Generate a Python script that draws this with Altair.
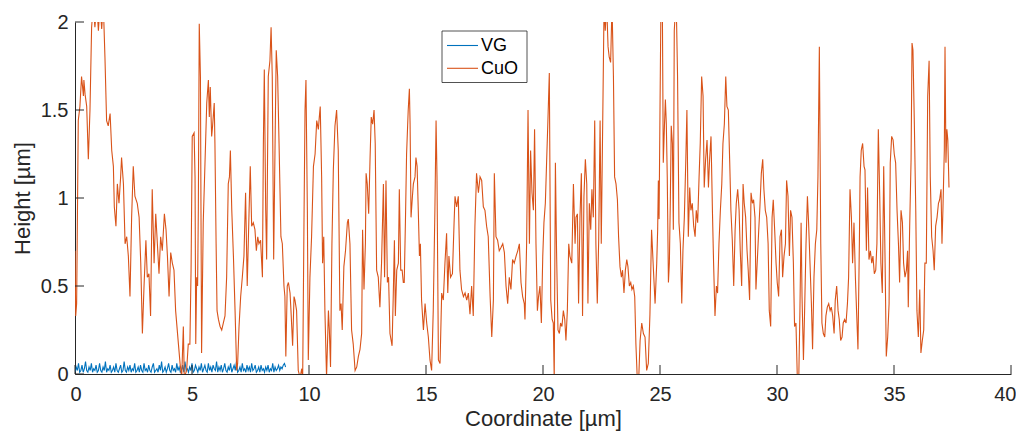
import altair as alt
import pandas as pd

x_ticks = [0, 5, 10, 15, 20, 25, 30, 35, 40]
y_ticks = [0, 0.5, 1, 1.5, 2]
series_names = ["VG", "CuO"]
series_colors = ["#0072BD", "#D95319"]

vg_x = [0.00,0.05,0.10,0.15,0.20,0.25,0.30,0.35,0.40,0.45,0.50,0.55,0.60,0.65,0.70,0.75,0.80,0.85,0.90,0.95,
        1.00,1.05,1.10,1.15,1.20,1.25,1.30,1.35,1.40,1.45,1.50,1.55,1.60,1.65,1.70,1.75,1.80,1.85,1.90,1.95,
        2.00,2.05,2.10,2.15,2.20,2.25,2.30,2.35,2.40,2.45,2.50,2.55,2.60,2.65,2.70,2.75,2.80,2.85,2.90,2.95,
        3.00,3.05,3.10,3.15,3.20,3.25,3.30,3.35,3.40,3.45,3.50,3.55,3.60,3.65,3.70,3.75,3.80,3.85,3.90,3.95,
        4.00,4.05,4.10,4.15,4.20,4.25,4.30,4.35,4.40,4.45,4.50,4.55,4.60,4.65,4.70,4.75,4.80,4.85,4.90,4.95,
        5.00,5.05,5.10,5.15,5.20,5.25,5.30,5.35,5.40,5.45,5.50,5.55,5.60,5.65,5.70,5.75,5.80,5.85,5.90,5.95,
        6.00,6.05,6.10,6.15,6.20,6.25,6.30,6.35,6.40,6.45,6.50,6.55,6.60,6.65,6.70,6.75,6.80,6.85,6.90,6.95,
        7.00,7.05,7.10,7.15,7.20,7.25,7.30,7.35,7.40,7.45,7.50,7.55,7.60,7.65,7.70,7.75,7.80,7.85,7.90,7.95,
        8.00,8.05,8.10,8.15,8.20,8.25,8.30,8.35,8.40,8.45,8.50,8.55,8.60,8.65,8.70,8.75,8.80,8.85,8.90,8.95,
        9.00]
vg_y = [0.01,0.04,0.02,0.06,0.01,0.02,0.05,0.01,0.03,0.07,
        0.02,0.01,0.04,0.02,0.06,0.01,0.03,0.02,0.05,0.01,
        0.02,0.06,0.02,0.01,0.04,0.02,0.07,0.01,0.03,0.02,
        0.05,0.01,0.02,0.04,0.01,0.06,0.02,0.01,0.03,0.05,
        0.01,0.02,0.07,0.02,0.01,0.04,0.02,0.05,0.01,0.03,
        0.02,0.06,0.01,0.02,0.04,0.01,0.05,0.02,0.01,0.06,
        0.02,0.03,0.01,0.05,0.02,0.01,0.04,0.06,0.01,0.02,
        0.03,0.01,0.05,0.02,0.07,0.01,0.02,0.04,0.01,0.03,
        0.06,0.02,0.01,0.05,0.02,0.03,0.01,0.06,0.02,0.04,
        0.01,0.02,0.05,0.01,0.07,0.02,0.03,0.01,0.04,0.02,
        0.06,0.01,0.02,0.05,0.03,0.01,0.04,0.02,0.06,0.01,
        0.03,0.05,0.02,0.01,0.06,0.02,0.04,0.01,0.05,0.03,
        0.02,0.07,0.01,0.04,0.02,0.05,0.01,0.03,0.06,0.02,
        0.01,0.04,0.02,0.06,0.01,0.03,0.05,0.02,0.07,0.01,
        0.02,0.04,0.01,0.06,0.02,0.03,0.01,0.05,0.02,0.04,
        0.01,0.06,0.02,0.03,0.05,0.01,0.02,0.04,0.01,0.05,
        0.02,0.03,0.01,0.04,0.02,0.05,0.01,0.03,0.02,0.06,
        0.01,0.04,0.02,0.03,0.05,0.02,0.04,0.03,0.05,0.06,
        0.04]

cuo_points = [
    (0.00,0.70),(0.03,0.33),(0.07,0.40),(0.14,1.44),(0.21,1.52),(0.28,1.69),(0.36,1.58),(0.38,1.67),(0.43,1.59),(0.50,1.52),
    (0.57,1.22),(0.64,1.50),(0.71,1.97),(0.78,2.1),(0.85,1.97),(0.93,2.1),(1.00,1.95),(1.07,2.1),(1.14,1.96),(1.21,2.1),
    (1.28,1.80),(1.35,1.44),(1.42,1.41),(1.50,1.48),(1.57,1.27),(1.64,1.18),(1.68,0.95),(1.75,0.84),(1.81,1.08),(1.88,0.97),
    (1.95,1.12),(1.99,1.23),(2.07,1.08),(2.14,0.74),(2.21,0.78),(2.28,0.67),(2.35,0.44),(2.42,0.89),(2.49,1.18),(2.56,1.01),
    (2.66,0.97),(2.74,0.89),(2.81,0.63),(2.88,0.23),(2.95,0.50),(3.03,0.76),(3.09,0.55),(3.16,0.57),(3.23,0.33),(3.30,1.05),
    (3.38,0.63),(3.45,0.91),(3.52,0.74),(3.59,0.57),(3.66,0.78),(3.73,0.70),(3.82,0.91),(3.89,0.82),(3.95,0.67),(4.02,0.44),
    (4.09,0.69),(4.16,0.63),(4.23,0.59),(4.30,0.36),
    (4.42,0.17),(4.49,0.06),(4.56,-0.02),(4.63,0.27),(4.67,-0.02),(4.77,0.02),(4.84,0.17),(4.91,0.17),(4.96,0.59),(5.01,1.35),
    (5.09,1.37),(5.13,1.12),(5.16,0.17),(5.20,0.55),(5.24,0.50),(5.27,0.93),(5.31,1.99),(5.36,1.69),(5.41,0.12),(5.48,0.86),
    (5.56,1.22),(5.63,1.54),(5.70,1.67),(5.74,1.46),(5.78,1.63),(5.84,1.35),(5.88,1.41),(5.95,1.54),(5.98,1.31),(6.03,0.74),
    (6.07,0.36),(6.13,0.31),(6.20,0.27),(6.27,0.25),(6.34,0.29),(6.41,0.33),(6.48,0.55),(6.55,1.08),(6.60,1.12),(6.64,1.27),
    (6.70,0.93),(6.77,0.67),(6.84,0.36),(6.91,0.02),(6.95,0.06),(7.01,0.27),(7.08,0.44),(7.15,0.55),(7.22,0.67),(7.29,1.03),
    (7.36,0.50),(7.44,0.93),(7.49,1.18),(7.55,0.84),(7.62,0.86),(7.69,0.82),(7.75,0.70),(7.81,0.78),(7.86,0.74),(7.93,0.76),
    (8.01,0.55),(8.05,1.31),(8.09,1.73),(8.15,0.93),(8.19,0.65),(8.26,1.69),(8.33,1.78),(8.38,1.97),(8.43,1.69),(8.49,0.65),
    (8.55,1.31),(8.60,1.84),(8.66,1.69),(8.72,1.31),(8.80,0.78),(8.86,0.74),(8.93,0.50),(8.97,0.44),(9.01,0.10),(9.07,0.50),
    (9.12,0.52),
    (9.19,0.46),(9.23,0.36),(9.30,0.16),(9.36,0.44),(9.40,0.42),(9.47,0.36),(9.54,0.02),(9.62,-0.02),(9.69,0.03),(9.73,-0.02),
    (9.79,0.93),(9.83,1.50),(9.87,1.67),(9.93,0.93),(9.97,0.08),(10.04,0.55),(10.11,0.78),(10.19,1.18),(10.26,1.25),(10.33,1.44),
    (10.40,1.39),(10.44,1.46),(10.48,1.52),(10.54,1.12),(10.58,0.63),(10.63,0.78),(10.68,0.36),(10.75,-0.02),(10.83,0.36),(10.87,0.25),
    (10.92,0.04),(10.98,0.74),(11.04,1.16),(11.11,1.41),(11.18,1.50),(11.25,1.27),(11.32,0.36),(11.37,0.40),(11.42,0.25),(11.49,0.61),
    (11.56,0.70),(11.64,0.86),(11.68,0.88),(11.75,0.74),(11.82,0.25),(11.89,0.17),(11.97,0.02),(12.04,0.04),(12.11,0.10),(12.18,0.14),
    (12.25,0.23),(12.29,0.82),(12.35,0.48),(12.41,0.74),(12.44,1.14),(12.49,1.08),(12.55,0.91),(12.61,1.23),(12.66,1.46),(12.72,1.42),
    (12.78,1.50),(12.83,1.31),(12.89,0.59),(12.96,0.55),(13.03,0.38),(13.10,0.63),(13.18,1.08),(13.23,0.55),(13.29,1.10),(13.35,0.52),
    (13.40,0.55),(13.46,0.23),(13.55,0.16),(13.60,0.44),(13.65,0.76),(13.69,0.33),(13.75,0.59),(13.82,0.63),(13.86,1.05),(13.92,0.59),
    (13.98,0.59),(14.03,0.52),(14.07,0.52),(14.12,0.86),(14.17,1.25),(14.24,1.50),(14.29,1.62),
    (14.32,1.42),(14.36,0.89),(14.42,1.01),(14.46,1.08),(14.53,1.12),(14.57,1.23),(14.62,1.18),(14.67,0.93),(14.72,0.67),(14.76,0.74),
    (14.81,0.42),(14.89,0.25),(14.96,0.40),(15.03,0.29),(15.10,0.21),(15.17,0.08),(15.24,0.02),(15.31,0.36),(15.38,0.93),(15.43,1.44),
    (15.47,1.12),(15.53,0.08),(15.60,0.06),(15.67,0.46),(15.74,0.42),(15.81,0.63),(15.88,0.80),(15.93,0.46),(15.98,0.67),(16.05,0.55),
    (16.13,0.57),(16.20,0.86),(16.24,1.01),(16.31,0.95),(16.38,1.01),(16.45,0.59),(16.52,0.48),(16.60,0.44),(16.67,0.46),(16.74,0.42),
    (16.81,0.46),(16.88,0.34),(16.95,0.50),(17.02,0.33),(17.09,0.84),(17.16,1.14),(17.24,1.03),(17.31,1.12),(17.38,1.10),(17.45,0.95),
    (17.52,0.93),(17.59,0.84),(17.66,0.78),(17.74,0.44),(17.81,0.21),(17.88,0.42),(17.92,1.14),(17.99,0.78),(18.06,0.76),(18.13,0.70),
    (18.21,0.72),(18.28,0.74),(18.35,0.69),(18.42,0.50),(18.49,0.40),(18.56,0.55),(18.63,0.48),(18.70,0.65),(18.77,0.63),(18.85,0.67),
    (18.92,0.70),(18.99,0.74),(19.06,0.52),(19.13,0.44),(19.20,0.40),
    (19.23,0.31),(19.30,0.74),(19.36,1.50),(19.42,0.74),(19.47,1.27),(19.53,1.03),(19.59,0.93),(19.64,1.39),(19.70,0.74),(19.76,0.36),
    (19.81,0.44),(19.87,0.50),(19.93,0.29),(19.99,0.67),(20.04,0.86),(20.10,0.97),(20.16,1.23),(20.21,1.44),(20.27,1.71),(20.33,0.42),
    (20.39,0.31),(20.44,0.29),(20.48,-0.03),(20.53,1.20),(20.58,0.69),(20.64,0.25),(20.70,0.23),(20.75,0.29),(20.81,0.27),(20.87,0.36),
    (20.93,0.31),(20.98,0.19),(21.04,0.36),(21.10,0.74),(21.15,0.67),(21.23,0.63),(21.30,1.08),(21.37,0.74),(21.41,0.89),(21.47,0.91),
    (21.52,0.40),(21.58,0.89),(21.64,1.14),(21.69,0.33),(21.75,1.01),(21.81,1.22),(21.87,1.08),(21.92,0.40),(21.98,0.97),(22.04,0.82),
    (22.09,1.05),(22.15,0.89),(22.21,1.44),(22.26,0.74),(22.32,0.40),(22.38,0.76),(22.44,1.44),(22.49,0.74),(22.55,1.41),(22.61,2.1),
    (22.66,1.95),(22.72,2.1),(22.78,1.86),(22.83,1.80),(22.89,1.77),(22.95,2.1),(23.01,1.69),(23.06,1.12),(23.12,1.08),(23.18,0.99),
    (23.23,0.78),(23.29,0.61),(23.35,0.55),(23.40,0.59),(23.46,0.46),(23.52,0.59),(23.58,0.65),(23.63,0.61),(23.69,0.50),(23.75,0.52),
    (23.80,0.48),(23.86,0.50),(23.92,0.44),(23.97,0.17),(24.03,-0.03),(24.09,-0.03),(24.15,0.19),
    (24.22,0.29),(24.29,0.23),(24.36,0.21),(24.43,0.02),(24.50,0.06),(24.57,0.34),(24.64,0.82),(24.72,0.59),(24.79,0.40),(24.86,0.63),
    (24.90,0.82),(24.93,1.10),(24.96,0.88),(25.00,1.50),(25.04,2.1),(25.10,2.1),(25.14,1.20),(25.19,1.41),(25.23,1.56),(25.27,1.42),
    (25.31,1.12),(25.36,0.52),(25.40,0.63),(25.44,0.97),(25.48,1.41),(25.53,1.31),(25.57,0.82),(25.61,1.95),(25.67,2.1),(25.71,1.99),
    (25.75,1.69),(25.81,0.86),(25.87,0.74),(25.93,0.40),(25.98,0.70),(26.04,0.89),(26.10,1.20),(26.15,1.50),(26.21,0.78),(26.27,1.06),
    (26.32,0.93),(26.38,0.97),(26.44,0.84),(26.50,0.78),(26.55,0.93),(26.61,0.86),(26.67,1.12),(26.72,1.31),(26.78,1.69),(26.84,1.58),
    (26.89,1.06),(26.95,1.22),(27.01,1.33),(27.07,1.06),(27.12,1.22),(27.18,1.35),(27.24,0.93),(27.29,0.63),(27.35,0.33),(27.41,0.50),
    (27.46,0.46),(27.52,0.74),(27.58,0.93),(27.64,1.08),(27.69,1.31),(27.75,1.42),(27.81,1.69),(27.86,1.52),(27.92,1.50),(27.98,1.20),
    (28.03,0.93),(28.09,0.76),(28.15,0.50),(28.21,0.82),(28.26,0.97),(28.32,1.05),(28.38,0.93),(28.43,0.70),(28.49,0.50),(28.55,1.08),
    (28.60,0.97),(28.66,0.89),(28.72,0.70),(28.77,0.59),(28.83,0.42),(28.89,1.03),(28.95,0.97),(29.00,0.99),(29.06,0.89),
    (29.10,0.48),(29.16,0.65),(29.22,0.82),(29.27,0.95),(29.33,1.14),(29.39,1.22),(29.44,1.05),(29.50,0.93),(29.56,0.89),(29.62,0.74),
    (29.67,0.36),(29.73,0.27),(29.79,0.89),(29.84,0.99),(29.90,0.82),(29.96,0.63),(30.01,0.52),(30.07,0.44),(30.13,0.78),(30.19,0.82),
    (30.24,0.55),(30.30,0.67),(30.36,0.74),(30.41,1.10),(30.47,1.01),(30.53,0.67),(30.58,0.93),(30.64,0.89),(30.70,0.63),(30.75,0.27),
    (30.81,0.29),(30.87,-0.03),(30.93,-0.03),(30.98,0.36),(31.03,0.86),(31.07,0.44),(31.13,0.08),(31.18,0.36),(31.24,0.74),(31.30,1.01),
    (31.35,0.86),(31.41,0.63),(31.47,0.40),(31.52,0.14),(31.58,0.55),(31.64,0.74),(31.70,0.82),(31.75,1.12),(31.81,1.86),(31.87,0.74),
    (31.92,0.29),(31.98,0.23),(32.04,0.21),(32.09,0.33),(32.15,0.38),(32.21,0.40),(32.27,0.36),(32.32,0.38),(32.38,0.33),(32.44,0.23),
    (32.49,0.42),(32.55,0.50),(32.61,0.36),(32.66,0.31),(32.72,0.19),(32.78,0.21),(32.83,0.29),(32.89,0.31),(32.95,0.29),(33.01,0.40),
    (33.06,0.55),(33.12,1.05),(33.18,0.89),(33.23,0.63),(33.29,0.86),(33.35,0.55),(33.40,0.36),(33.46,0.14),(33.52,0.74),(33.55,1.12),
    (33.60,1.27),(33.66,1.31),(33.72,1.18),
    (33.76,1.16),(33.82,0.70),(33.87,1.06),(33.93,0.65),(33.99,0.70),(34.05,0.63),(34.10,0.67),(34.16,0.57),(34.22,0.59),(34.27,0.74),
    (34.33,1.39),(34.39,1.01),(34.44,0.63),(34.50,0.46),(34.56,1.18),(34.62,0.63),(34.67,0.10),(34.73,0.21),(34.79,0.40),(34.84,1.20),
    (34.90,1.35),(34.96,1.33),(35.01,1.25),(35.07,1.20),(35.13,0.93),(35.19,0.74),(35.24,0.52),(35.30,0.93),(35.36,0.86),(35.41,0.63),
    (35.47,0.55),(35.53,0.59),(35.58,0.70),(35.61,0.38),(35.67,0.84),(35.73,1.22),(35.77,1.88),(35.81,1.84),(35.87,1.42),(35.93,0.93),
    (35.98,0.36),(36.04,0.21),(36.10,0.48),(36.15,0.12),(36.21,0.19),(36.27,0.25),(36.32,0.63),(36.38,0.63),(36.44,1.58),(36.50,1.78),
    (36.55,1.12),(36.61,0.78),(36.67,0.70),(36.72,0.59),(36.78,0.84),(36.84,0.89),(36.90,0.97),(36.95,0.99),(37.01,1.05),(37.05,0.74),
    (37.09,0.93),(37.15,1.27),(37.18,1.86),(37.22,1.20),(37.26,1.39),(37.30,1.33),(37.35,1.06),
]

W, H = 936, 352
FONT = "Liberation Sans"
AX = "#262626"

rows = [{"x": x, "y": y, "series": "VG"} for x, y in zip(vg_x, vg_y)]
rows += [{"x": x, "y": y, "series": "CuO"} for x, y in cuo_points]
df = pd.DataFrame(rows)

xscale = alt.Scale(domain=[0, 40], nice=False, zero=False)
yscale = alt.Scale(domain=[0, 2], nice=False, zero=False)

x_axis = alt.Axis(values=x_ticks, title="Coordinate [µm]", grid=False, tickSize=0, ticks=False,
                  labelPadding=10, titlePadding=4, labelFontSize=20, titleFontSize=22,
                  labelFont=FONT, titleFont=FONT, titleFontWeight="normal",
                  domainColor=AX, labelColor=AX, titleColor=AX,
                  labelFlush=True, labelFlushOffset=5)
y_axis = alt.Axis(values=y_ticks, format="~g", title="Height [µm]", grid=False, tickSize=0, ticks=False,
                  labelPadding=7, titlePadding=6, labelFontSize=20, titleFontSize=22,
                  labelFont=FONT, titleFont=FONT, titleFontWeight="normal",
                  domainColor=AX, labelColor=AX, titleColor=AX, labelFlush=False)

lines = alt.Chart(df).mark_line(clip=True, strokeWidth=1.1).encode(
    x=alt.X("x:Q", scale=xscale, axis=x_axis, title="Coordinate [µm]"),
    y=alt.Y("y:Q", scale=yscale, axis=y_axis, title="Height [µm]"),
    color=alt.Color("series:N", scale=alt.Scale(domain=series_names, range=series_colors), legend=None),
    order=alt.Order("x:Q"),
)

tick_x_df = pd.DataFrame({"x": x_ticks})
tick_y_df = pd.DataFrame({"y": y_ticks})

xt = alt.Chart(tick_x_df).mark_rule(color=AX, strokeWidth=1).encode(
    x=alt.X("x:Q", scale=xscale, axis=x_axis, title="Coordinate [µm]"),
    y=alt.value(H), y2=alt.value(H - 9))
yt = alt.Chart(tick_y_df).mark_rule(color=AX, strokeWidth=1).encode(
    y=alt.Y("y:Q", scale=yscale, axis=y_axis, title="Height [µm]"),
    x=alt.value(0), x2=alt.value(9))

# legend drawn as a framed box with line samples
legend_df = pd.DataFrame({"series": series_names})
box = alt.Chart(legend_df).transform_filter(alt.datum.series == "VG").mark_rect(
    fill="white", stroke=AX, strokeWidth=0.8).encode(
    x=alt.value(367), x2=alt.value(452), y=alt.value(9), y2=alt.value(60.5))
leg_layers = [box]
for name, col, yy in zip(series_names, series_colors, [23.5, 46.3]):
    base = alt.Chart(legend_df).transform_filter(alt.datum.series == name)
    leg_layers.append(base.mark_rule(color=col, strokeWidth=1.1).encode(
        x=alt.value(372), x2=alt.value(403), y=alt.value(yy)))
    leg_layers.append(base.mark_text(align="left", baseline="middle", font=FONT, fontSize=18,
                                     color="#000000").encode(
        text="series:N", x=alt.value(406), y=alt.value(yy + 0.5)))

chart = alt.layer(lines, xt, yt, *leg_layers).properties(
    width=W, height=H,
    autosize=alt.AutoSizeParams(type="none"),
    padding={"left": 67, "top": 14, "right": 5, "bottom": 61},
).configure_view(stroke=None)

chart.save("out.html", embed_options={"renderer": "svg", "actions": False})
